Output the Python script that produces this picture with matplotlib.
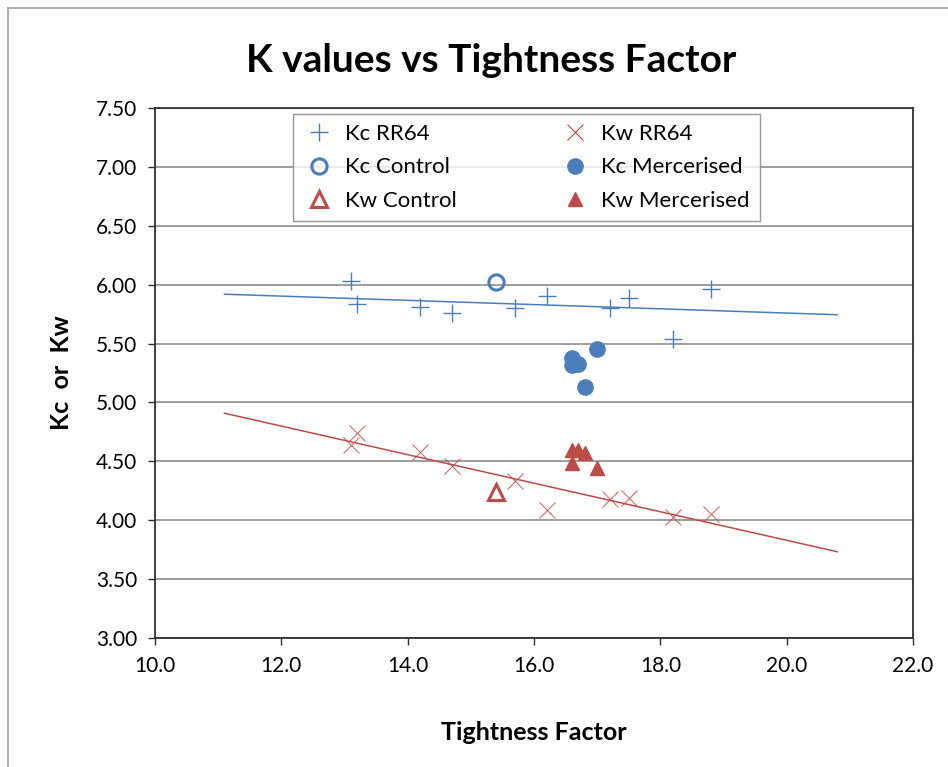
import matplotlib
matplotlib.use("Agg")
import matplotlib.pyplot as plt
from matplotlib.lines import Line2D
import numpy as np

plt.rcParams['font.family'] = ['Lato', 'DejaVu Sans']

kc_rr64_x = [13.1, 13.2, 14.2, 14.7, 15.7, 16.2, 17.2, 17.5, 18.2, 18.8]
kc_rr64_y = [6.03, 5.84, 5.81, 5.76, 5.80, 5.90, 5.80, 5.89, 5.54, 5.96]
kw_rr64_x = [13.2, 13.1, 14.2, 14.7, 15.7, 16.2, 17.2, 17.5, 18.2, 18.8]
kw_rr64_y = [4.74, 4.64, 4.58, 4.46, 4.33, 4.09, 4.18, 4.19, 4.03, 4.05]

kc_control_x = [15.4]
kc_control_y = [6.02]
kw_control_x = [15.4]
kw_control_y = [4.24]

merc_x = [16.6, 16.6, 16.7, 17.0, 16.8]
kc_merc_y = [5.38, 5.32, 5.33, 5.45, 5.13]
kw_merc_x = [16.6, 16.7, 16.8, 16.6, 17.0]
kw_merc_y = [4.60, 4.60, 4.57, 4.49, 4.44]

blue = '#4A7EBB'
red = '#BE4B48'

fig = plt.figure(figsize=(9.48, 7.67), dpi=100)
ax = fig.add_axes([155/948, 1-638/767, (913-155)/948, (638-108)/767])

h1, = ax.plot(kc_rr64_x, kc_rr64_y, '+', color=blue, ms=13, mew=1.0, label='Kc RR64')
h4, = ax.plot(kw_rr64_x, kw_rr64_y, 'x', color=red, ms=11, mew=0.8, alpha=0.8, label='Kw RR64')
h2, = ax.plot(kc_control_x, kc_control_y, 'o', mfc='none', mec=blue, ms=11, mew=2.2, label='Kc Control')
h3, = ax.plot(kw_control_x, kw_control_y, '^', mfc='none', mec=red, ms=11, mew=2.2, label='Kw Control')
h5, = ax.plot(merc_x, kc_merc_y, 'o', color=blue, ms=11, label='Kc Mercerised')
h6, = ax.plot(kw_merc_x, kw_merc_y, '^', color=red, ms=10, label='Kw Mercerised')

# linear trendlines, extended 2 units each way
for xs, ys, c in [(kc_rr64_x, kc_rr64_y, blue), (kw_rr64_x, kw_rr64_y, red)]:
    p = np.polyfit(xs, ys, 1)
    tx = np.array([min(xs) - 2, max(xs) + 2])
    ax.plot(tx, np.polyval(p, tx), color=c, lw=1.1, zorder=1)

ax.set_xlim(10, 22)
ax.set_ylim(3, 7.5)
ax.set_xticks(np.arange(10, 22.1, 2))
ax.set_xticklabels(['%.1f' % v for v in np.arange(10, 22.1, 2)])
ax.set_yticks(np.arange(3, 7.51, 0.5))
ax.set_yticklabels(['%.2f' % v for v in np.arange(3, 7.51, 0.5)])
ax.yaxis.grid(True, color='#8C8C8C', lw=1.2)
ax.set_axisbelow(True)
for s in ax.spines.values():
    s.set_color('#303030')
    s.set_linewidth(1.3)
ax.tick_params(axis='both', direction='out', length=5, width=1, color='#303030',
               labelsize=15, pad=8)

ax.set_xlabel('Tightness Factor', fontsize=18, fontweight='bold', labelpad=32)
ax.set_ylabel('Kc  or  Kw', fontsize=18, fontweight='bold', labelpad=16)
fig.text(491/948, 1-60/767, 'K values vs Tightness Factor', fontsize=28,
         fontweight='bold', ha='center', va='center')

leg = ax.legend(handles=[h1, h2, h3, h4, h5, h6], ncol=2, loc='upper left',
                bbox_to_anchor=((293-155)/758, 1-6/530), fontsize=16,
                frameon=True, fancybox=False, edgecolor='#7F7F7F',
                columnspacing=4.6, handletextpad=0.5, borderpad=0.45,
                labelspacing=0.6, handlelength=1.4, borderaxespad=0)
leg.get_frame().set_linewidth(1.0)
for lh in leg.legend_handles:
    lh.set_alpha(1)

# chart area border (left and top)
fig.add_artist(Line2D([8/948, 8/948], [0, 1-8/767], color='#A0A0A0', lw=1.2))
fig.add_artist(Line2D([8/948, 1], [1-8/767, 1-8/767], color='#A0A0A0', lw=1.2))

fig.savefig('out.png', dpi=100)
